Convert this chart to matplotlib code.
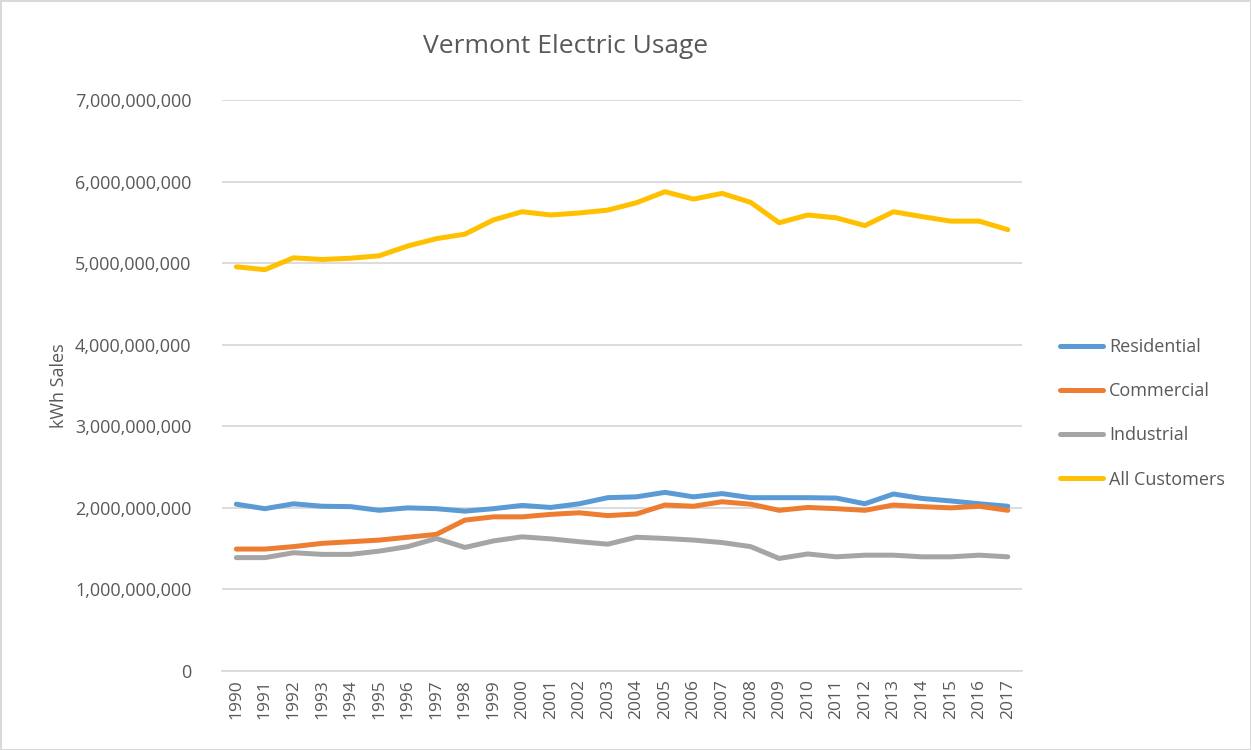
import numpy as np
import matplotlib
matplotlib.use("Agg")
import matplotlib.pyplot as plt
from matplotlib.ticker import FuncFormatter

years = list(range(1990, 2018))

residential = [2.045, 1.99, 2.05, 2.02, 2.015, 1.97, 2.0, 1.99, 1.96, 1.99,
               2.03, 2.005, 2.05, 2.125, 2.135, 2.19, 2.135, 2.175, 2.125, 2.125,
               2.125, 2.12, 2.05, 2.17, 2.115, 2.085, 2.05, 2.02]
commercial = [1.495, 1.495, 1.525, 1.565, 1.585, 1.605, 1.64, 1.675, 1.85, 1.89,
              1.89, 1.92, 1.94, 1.905, 1.925, 2.035, 2.02, 2.075, 2.045, 1.97,
              2.005, 1.99, 1.97, 2.035, 2.015, 2.0, 2.02, 1.97]
industrial = [1.39, 1.39, 1.45, 1.43, 1.43, 1.47, 1.525, 1.625, 1.515, 1.595,
              1.645, 1.62, 1.585, 1.555, 1.64, 1.625, 1.605, 1.575, 1.525, 1.38,
              1.435, 1.40, 1.42, 1.42, 1.40, 1.40, 1.42, 1.40]
all_customers = [4.955, 4.92, 5.065, 5.045, 5.06, 5.09, 5.21, 5.30, 5.355, 5.53,
                 5.63, 5.59, 5.615, 5.65, 5.74, 5.875, 5.785, 5.855, 5.745, 5.495,
                 5.59, 5.555, 5.46, 5.63, 5.57, 5.515, 5.515, 5.41]

series = [("Residential", residential, "#5b9bd5"),
          ("Commercial", commercial, "#ed7d31"),
          ("Industrial", industrial, "#a5a5a5"),
          ("All Customers", all_customers, "#ffc000")]

plt.rcParams['font.family'] = ['Open Sans', 'DejaVu Sans']
txt = "#595959"

fig = plt.figure(figsize=(12.51, 7.5), dpi=100)
fig.patch.set_edgecolor("#d9d9d9")
fig.patch.set_linewidth(2)
ax = fig.add_axes([0.1775, 0.1053, 0.6395, 0.7614])

x = np.arange(len(years))
for name, vals, col in series:
    ax.plot(x, np.array(vals) * 1e9, color=col, lw=3.6, label=name,
            solid_capstyle='round', solid_joinstyle='round')

ax.set_xlim(-0.5, len(years) - 0.5)
ax.set_ylim(0, 7e9)
ax.set_yticks(np.arange(0, 8e9, 1e9))
ax.yaxis.set_major_formatter(FuncFormatter(lambda v, p: f"{int(round(v)):,}"))
ax.set_xticks(x)
ax.set_xticklabels([str(y) for y in years], rotation=90)
ax.grid(axis='y', color="#d9d9d9", lw=1.3)
ax.set_axisbelow(True)
for s in ['top', 'right', 'left']:
    ax.spines[s].set_visible(False)
ax.spines['bottom'].set_color("#d9d9d9")
ax.spines['bottom'].set_linewidth(1.3)
ax.tick_params(axis='y', length=0, pad=22, labelsize=13, labelcolor=txt)
ax.tick_params(axis='x', length=0, pad=6, labelsize=12.5, labelcolor=txt)
ax.set_ylabel("kWh Sales", fontsize=13, color=txt, labelpad=5)

fig.text(0.452, 0.938, "Vermont Electric Usage", ha='center', va='center',
         fontsize=19, color=txt)

fig.legend(loc='center left', bbox_to_anchor=(0.834, 0.449), frameon=False,
           fontsize=13, labelspacing=1.45, handlelength=2.4, handletextpad=0.35,
           labelcolor=txt)

fig.savefig("out.png", dpi=100)
